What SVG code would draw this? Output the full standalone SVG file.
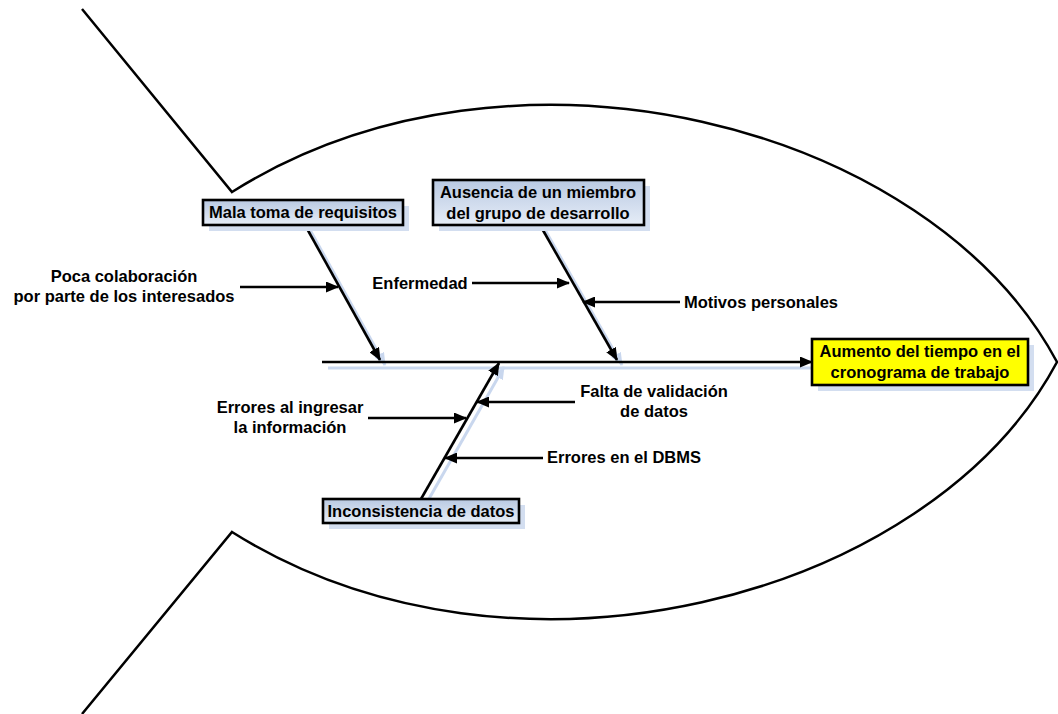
<svg xmlns="http://www.w3.org/2000/svg" width="1058" height="714" viewBox="0 0 1058 714">
<style>
.t{font-family:"Liberation Sans",Arial,sans-serif;font-weight:bold;font-size:16.5px;fill:#000;text-anchor:middle}
.ln{stroke:#000;stroke-width:2.6;fill:none}
.sh{stroke:#c9d7ee;stroke-width:3;fill:none}
.box{stroke:#000;stroke-width:2.6;fill:url(#g)}
.shb{fill:#d3def0}
.fish{stroke:#000;stroke-width:2.5;fill:none}
</style>
<defs>
<linearGradient id="g" x1="0" y1="0" x2="0" y2="1">
<stop offset="0" stop-color="#b9c9e2"/>
<stop offset="1" stop-color="#e6edf7"/>
</linearGradient>
<marker id="a" viewBox="0 0 13 11" refX="12" refY="5.5" markerWidth="13" markerHeight="11" markerUnits="userSpaceOnUse" orient="auto">
<path d="M0,0 L13,5.5 L0,11 Z" fill="#000"/>
</marker>
<marker id="as" viewBox="0 0 13 11" refX="12" refY="5.5" markerWidth="13" markerHeight="11" markerUnits="userSpaceOnUse" orient="auto">
<path d="M0,0 L13,5.5 L0,11 Z" fill="#c9d7ee"/>
</marker>
</defs>
<g id="fish">
<path class="fish" d="M82,9 L232,192 C512,16 930,124 1057,362 C930,600 512,708 232,532 L82,714"/>
</g>
<g id="connectors">
<g id="shadows">
<line class="sh" x1="328" y1="368" x2="812" y2="368"/>
<line class="sh" x1="310" y1="230" x2="385" y2="365" marker-end="url(#as)"/>
<line class="sh" x1="545" y1="230" x2="622" y2="365" marker-end="url(#as)"/>
<line class="sh" x1="426" y1="504" x2="504" y2="367" marker-end="url(#as)"/>
</g>
<line class="ln" x1="322" y1="362" x2="812" y2="362" marker-end="url(#a)"/>
<line class="ln" x1="305" y1="225" x2="380" y2="360" marker-end="url(#a)"/>
<line class="ln" x1="540" y1="225" x2="617" y2="360" marker-end="url(#a)"/>
<line class="ln" x1="421" y1="499" x2="499" y2="363" marker-end="url(#a)"/>
<line class="ln" x1="240" y1="287" x2="338" y2="287" marker-end="url(#a)"/>
<line class="ln" x1="472" y1="283" x2="569" y2="283" marker-end="url(#a)"/>
<line class="ln" x1="680" y1="302" x2="583" y2="302" marker-end="url(#a)"/>
<line class="ln" x1="368" y1="418" x2="466" y2="418" marker-end="url(#a)"/>
<line class="ln" x1="575" y1="402" x2="477" y2="402" marker-end="url(#a)"/>
<line class="ln" x1="543" y1="458" x2="445" y2="458" marker-end="url(#a)"/>
</g>
<g id="effect">
<rect x="818" y="345" width="216" height="46" class="shb"/>
<rect x="812" y="339" width="216" height="46" fill="#ffff00" stroke="#000" stroke-width="2.6"/>
<text class="t" x="920" y="357">Aumento del tiempo en el</text>
<text class="t" x="920" y="378">cronograma de trabajo</text>
</g>
<g id="mala">
<rect x="209" y="206" width="200" height="25" class="shb"/>
<rect x="203" y="200" width="200" height="25" class="box"/>
<text class="t" x="303" y="218">Mala toma de requisitos</text>
</g>
<g id="ausencia">
<rect x="439" y="186" width="211" height="45" class="shb"/>
<rect x="433" y="180" width="211" height="45" class="box"/>
<text class="t" x="538" y="198">Ausencia de un miembro</text>
<text class="t" x="538" y="219">del grupo de desarrollo</text>
</g>
<g id="inconsistencia">
<rect x="329" y="505" width="196" height="24" class="shb"/>
<rect x="323" y="499" width="196" height="24" class="box"/>
<text class="t" x="421" y="517">Inconsistencia de datos</text>
</g>
<g id="poca">
<text class="t" x="124" y="282">Poca colaboración</text>
<text class="t" x="124" y="302">por parte de los interesados</text>
</g>
<g id="enfermedad"><text class="t" x="420" y="289">Enfermedad</text></g>
<g id="motivos"><text class="t" x="761" y="308">Motivos personales</text></g>
<g id="errores-ingresar">
<text class="t" x="290" y="413">Errores al ingresar</text>
<text class="t" x="290" y="433">la información</text>
</g>
<g id="falta">
<text class="t" x="654" y="397">Falta de validación</text>
<text class="t" x="654" y="417">de datos</text>
</g>
<g id="dbms"><text class="t" x="624" y="463">Errores en el DBMS</text></g>
</svg>
